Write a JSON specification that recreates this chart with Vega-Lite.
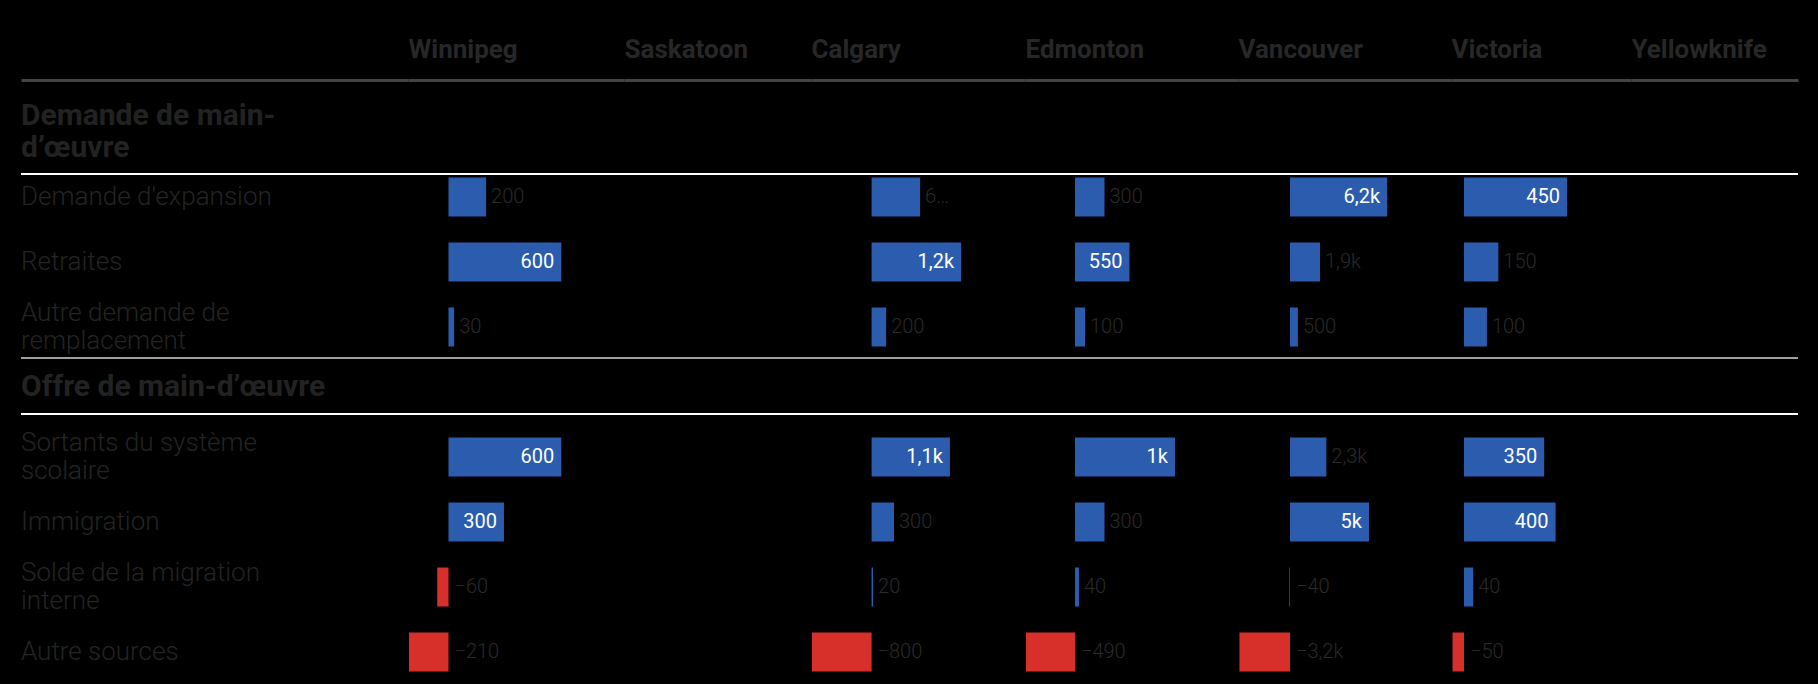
{
  "$schema": "https://vega.github.io/schema/vega-lite/v6.json",
  "background": "#000000",
  "padding": {"left": 20, "top": 36, "right": 20, "bottom": 4},
  "spacing": 0,
  "bounds": "flush",
  "datasets": {
    "rows": [
      {"row": "Demande de main-d’œuvre", "label": "Demande de main-\nd’œuvre", "kind": "section"},
      {"row": "Demande d'expansion", "label": "Demande d'expansion", "kind": "item"},
      {"row": "Retraites", "label": "Retraites", "kind": "item"},
      {"row": "Autre demande de remplacement", "label": "Autre demande de\nremplacement", "kind": "item"},
      {"row": "Offre de main-d’œuvre", "label": "Offre de main-d’œuvre", "kind": "section"},
      {"row": "Sortants du système scolaire", "label": "Sortants du système\nscolaire", "kind": "item"},
      {"row": "Immigration", "label": "Immigration", "kind": "item"},
      {"row": "Solde de la migration interne", "label": "Solde de la migration\ninterne", "kind": "item"},
      {"row": "Autre sources", "label": "Autre sources", "kind": "item"}
    ],
    "values": [
      {"city": "Winnipeg", "row": "Demande d'expansion", "value": 200, "label": "200"},
      {"city": "Winnipeg", "row": "Retraites", "value": 600, "label": "600"},
      {"city": "Winnipeg", "row": "Autre demande de remplacement", "value": 30, "label": "30"},
      {"city": "Winnipeg", "row": "Sortants du système scolaire", "value": 600, "label": "600"},
      {"city": "Winnipeg", "row": "Immigration", "value": 295, "label": "300"},
      {"city": "Winnipeg", "row": "Solde de la migration interne", "value": -60, "label": "−60"},
      {"city": "Winnipeg", "row": "Autre sources", "value": -210, "label": "−210"},
      {"city": "Calgary", "row": "Demande d'expansion", "value": 650, "label": "6…"},
      {"city": "Calgary", "row": "Retraites", "value": 1200, "label": "1,2k"},
      {"city": "Calgary", "row": "Autre demande de remplacement", "value": 195, "label": "200"},
      {"city": "Calgary", "row": "Sortants du système scolaire", "value": 1050, "label": "1,1k"},
      {"city": "Calgary", "row": "Immigration", "value": 300, "label": "300"},
      {"city": "Calgary", "row": "Solde de la migration interne", "value": 20, "label": "20"},
      {"city": "Calgary", "row": "Autre sources", "value": -800, "label": "−800"},
      {"city": "Edmonton", "row": "Demande d'expansion", "value": 295, "label": "300"},
      {"city": "Edmonton", "row": "Retraites", "value": 545, "label": "550"},
      {"city": "Edmonton", "row": "Autre demande de remplacement", "value": 100, "label": "100"},
      {"city": "Edmonton", "row": "Sortants du système scolaire", "value": 1000, "label": "1k"},
      {"city": "Edmonton", "row": "Immigration", "value": 295, "label": "300"},
      {"city": "Edmonton", "row": "Solde de la migration interne", "value": 40, "label": "40"},
      {"city": "Edmonton", "row": "Autre sources", "value": -490, "label": "−490"},
      {"city": "Vancouver", "row": "Demande d'expansion", "value": 6150, "label": "6,2k"},
      {"city": "Vancouver", "row": "Retraites", "value": 1900, "label": "1,9k"},
      {"city": "Vancouver", "row": "Autre demande de remplacement", "value": 500, "label": "500"},
      {"city": "Vancouver", "row": "Sortants du système scolaire", "value": 2300, "label": "2,3k"},
      {"city": "Vancouver", "row": "Immigration", "value": 5000, "label": "5k"},
      {"city": "Vancouver", "row": "Solde de la migration interne", "value": -40, "label": "−40"},
      {"city": "Vancouver", "row": "Autre sources", "value": -3200, "label": "−3,2k"},
      {"city": "Victoria", "row": "Demande d'expansion", "value": 450, "label": "450"},
      {"city": "Victoria", "row": "Retraites", "value": 150, "label": "150"},
      {"city": "Victoria", "row": "Autre demande de remplacement", "value": 100, "label": "100"},
      {"city": "Victoria", "row": "Sortants du système scolaire", "value": 350, "label": "350"},
      {"city": "Victoria", "row": "Immigration", "value": 400, "label": "400"},
      {"city": "Victoria", "row": "Solde de la migration interne", "value": 40, "label": "40"},
      {"city": "Victoria", "row": "Autre sources", "value": -50, "label": "−50"}
    ]
  },
  "hconcat": [
    {
      "width": 387, "height": 600,
      "layer": [
        {"data": {"name": "rows"}, "transform": [{"filter": {"field": "row", "oneOf": ["Demande d'expansion", "Retraites", "Immigration", "Autre sources"]}}],
         "mark": {"type": "text", "align": "left", "baseline": "middle", "font": "Roboto", "fontSize": 26, "fontWeight": 300, "color": "#242424", "lineBreak": "\n", "lineHeight": 28},
         "encoding": {
           "x": {"datum": 0, "type": "quantitative", "scale": {"domain": [0, 1], "nice": false, "zero": false}, "axis": {"orient": "top", "title": null}},
           "y": {"field": "row", "type": "nominal", "axis": null, "scale": {"domain": ["Demande de main-d’œuvre", "Demande d'expansion", "Retraites", "Autre demande de remplacement", "Offre de main-d’œuvre", "Sortants du système scolaire", "Immigration", "Solde de la migration interne", "Autre sources"], "paddingInner": 0.4, "paddingOuter": 0.3154, "align": 0.7927}},
           "text": {"field": "label"}
         }},
        {"data": {"name": "rows"}, "transform": [{"filter": {"field": "row", "oneOf": ["Autre demande de remplacement", "Sortants du système scolaire", "Solde de la migration interne"]}}],
         "mark": {"type": "text", "align": "left", "baseline": "middle", "dy": -14, "font": "Roboto", "fontSize": 26, "fontWeight": 300, "color": "#242424", "lineBreak": "\n", "lineHeight": 28},
         "encoding": {
           "x": {"datum": 0, "type": "quantitative"},
           "y": {"field": "row", "type": "nominal"},
           "text": {"field": "label"}
         }},
        {"data": {"name": "rows"}, "transform": [{"filter": {"field": "row", "equal": "Offre de main-d’œuvre"}}],
         "mark": {"type": "text", "align": "left", "baseline": "middle", "dy": -5, "font": "Roboto", "fontSize": 30, "fontWeight": "bold", "color": "#222222", "lineBreak": "\n", "lineHeight": 32},
         "encoding": {
           "x": {"datum": 0, "type": "quantitative"},
           "y": {"field": "row", "type": "nominal"},
           "text": {"field": "label"}
         }},
        {"data": {"name": "rows"}, "transform": [{"filter": {"field": "row", "equal": "Demande de main-d’œuvre"}}],
         "mark": {"type": "text", "align": "left", "baseline": "middle", "dy": -16, "font": "Roboto", "fontSize": 30, "fontWeight": "bold", "color": "#222222", "lineBreak": "\n", "lineHeight": 32},
         "encoding": {
           "x": {"datum": 0, "type": "quantitative"},
           "y": {"field": "row", "type": "nominal"},
           "text": {"field": "label"}
         }},
        {"data": {"name": "rows"}, "transform": [{"filter": {"field": "row", "equal": "Demande d'expansion"}}], "mark": {"type": "rule", "color": "#ffffff", "strokeWidth": 2}, "encoding": {"y": {"field": "row", "type": "nominal", "bandPosition": -0.09}}},
        {"data": {"name": "rows"}, "transform": [{"filter": {"field": "row", "equal": "Offre de main-d’œuvre"}}], "mark": {"type": "rule", "color": "#a0a0a0", "strokeWidth": 2}, "encoding": {"y": {"field": "row", "type": "nominal", "bandPosition": -0.37}}},
        {"data": {"name": "rows"}, "transform": [{"filter": {"field": "row", "equal": "Sortants du système scolaire"}}], "mark": {"type": "rule", "color": "#ffffff", "strokeWidth": 2}, "encoding": {"y": {"field": "row", "type": "nominal", "bandPosition": -0.6}}}
      ]
    },
    {
      "width": 216, "height": 600,
      "layer": [
        {"data": {"name": "values"}, "transform": [{"filter": {"field": "city", "equal": "Winnipeg"}}],
         "mark": {"type": "bar"},
         "encoding": {
           "x": {"field": "value", "type": "quantitative", "scale": {"domain": [-215.4, 933.5], "nice": false, "zero": false}, "axis": {"orient": "top", "title": "Winnipeg"}},
           "y": {"field": "row", "type": "nominal", "axis": null, "scale": {"domain": ["Demande de main-d’œuvre", "Demande d'expansion", "Retraites", "Autre demande de remplacement", "Offre de main-d’œuvre", "Sortants du système scolaire", "Immigration", "Solde de la migration interne", "Autre sources"], "paddingInner": 0.4, "paddingOuter": 0.3154, "align": 0.7927}},
           "color": {"condition": {"test": "datum.value < 0", "value": "#d7302b"}, "value": "#2b5cae"}
         }},
        {"data": {"name": "values"}, "transform": [{"filter": {"field": "city", "equal": "Winnipeg"}}, {"filter": "datum.value >= 250"}],
         "mark": {"type": "text", "align": "right", "baseline": "middle", "dx": -7, "font": "Roboto", "fontSize": 20, "color": "#ffffff"},
         "encoding": {"x": {"field": "value", "type": "quantitative"}, "y": {"field": "row", "type": "nominal"}, "text": {"field": "label"}}},
        {"data": {"name": "values"}, "transform": [{"filter": {"field": "city", "equal": "Winnipeg"}}, {"filter": "datum.value >= 0 && datum.value < 250"}],
         "mark": {"type": "text", "align": "left", "baseline": "middle", "dx": 5, "font": "Roboto", "fontSize": 20, "fontWeight": 300, "color": "#2a2a2a"},
         "encoding": {"x": {"field": "value", "type": "quantitative"}, "y": {"field": "row", "type": "nominal"}, "text": {"field": "label"}}},
        {"data": {"name": "values"}, "transform": [{"filter": {"field": "city", "equal": "Winnipeg"}}, {"filter": "datum.value < 0"}],
         "mark": {"type": "text", "align": "left", "baseline": "middle", "dx": 6, "font": "Roboto", "fontSize": 20, "fontWeight": 300, "color": "#2a2a2a"},
         "encoding": {"x": {"datum": 0, "type": "quantitative"}, "y": {"field": "row", "type": "nominal"}, "text": {"field": "label"}}},
        {"data": {"name": "rows"}, "transform": [{"filter": {"field": "row", "equal": "Demande d'expansion"}}], "mark": {"type": "rule", "color": "#ffffff", "strokeWidth": 2}, "encoding": {"y": {"field": "row", "type": "nominal", "bandPosition": -0.09}}},
        {"data": {"name": "rows"}, "transform": [{"filter": {"field": "row", "equal": "Offre de main-d’œuvre"}}], "mark": {"type": "rule", "color": "#a0a0a0", "strokeWidth": 2}, "encoding": {"y": {"field": "row", "type": "nominal", "bandPosition": -0.37}}},
        {"data": {"name": "rows"}, "transform": [{"filter": {"field": "row", "equal": "Sortants du système scolaire"}}], "mark": {"type": "rule", "color": "#ffffff", "strokeWidth": 2}, "encoding": {"y": {"field": "row", "type": "nominal", "bandPosition": -0.6}}}
      ]
    },
    {
      "width": 187, "height": 600,
      "layer": [
        {"data": {"name": "rows"},
         "mark": {"type": "text", "opacity": 0},
         "encoding": {
           "x": {"datum": 0, "type": "quantitative", "scale": {"domain": [0, 1], "nice": false, "zero": false}, "axis": {"orient": "top", "title": "Saskatoon"}},
           "y": {"field": "row", "type": "nominal", "axis": null, "scale": {"domain": ["Demande de main-d’œuvre", "Demande d'expansion", "Retraites", "Autre demande de remplacement", "Offre de main-d’œuvre", "Sortants du système scolaire", "Immigration", "Solde de la migration interne", "Autre sources"], "paddingInner": 0.4, "paddingOuter": 0.3154, "align": 0.7927}},
           "text": {"field": "row"}
         }},
        {"data": {"name": "rows"}, "transform": [{"filter": {"field": "row", "equal": "Demande d'expansion"}}], "mark": {"type": "rule", "color": "#ffffff", "strokeWidth": 2}, "encoding": {"y": {"field": "row", "type": "nominal", "bandPosition": -0.09}}},
        {"data": {"name": "rows"}, "transform": [{"filter": {"field": "row", "equal": "Offre de main-d’œuvre"}}], "mark": {"type": "rule", "color": "#a0a0a0", "strokeWidth": 2}, "encoding": {"y": {"field": "row", "type": "nominal", "bandPosition": -0.37}}},
        {"data": {"name": "rows"}, "transform": [{"filter": {"field": "row", "equal": "Sortants du système scolaire"}}], "mark": {"type": "rule", "color": "#ffffff", "strokeWidth": 2}, "encoding": {"y": {"field": "row", "type": "nominal", "bandPosition": -0.6}}}
      ]
    },
    {
      "width": 214, "height": 600,
      "layer": [
        {"data": {"name": "values"}, "transform": [{"filter": {"field": "city", "equal": "Calgary"}}],
         "mark": {"type": "bar"},
         "encoding": {
           "x": {"field": "value", "type": "quantitative", "scale": {"domain": [-812.3, 2056.3], "nice": false, "zero": false}, "axis": {"orient": "top", "title": "Calgary"}},
           "y": {"field": "row", "type": "nominal", "axis": null, "scale": {"domain": ["Demande de main-d’œuvre", "Demande d'expansion", "Retraites", "Autre demande de remplacement", "Offre de main-d’œuvre", "Sortants du système scolaire", "Immigration", "Solde de la migration interne", "Autre sources"], "paddingInner": 0.4, "paddingOuter": 0.3154, "align": 0.7927}},
           "color": {"condition": {"test": "datum.value < 0", "value": "#d7302b"}, "value": "#2b5cae"}
         }},
        {"data": {"name": "values"}, "transform": [{"filter": {"field": "city", "equal": "Calgary"}}, {"filter": "datum.value >= 800"}],
         "mark": {"type": "text", "align": "right", "baseline": "middle", "dx": -7, "font": "Roboto", "fontSize": 20, "color": "#ffffff"},
         "encoding": {"x": {"field": "value", "type": "quantitative"}, "y": {"field": "row", "type": "nominal"}, "text": {"field": "label"}}},
        {"data": {"name": "values"}, "transform": [{"filter": {"field": "city", "equal": "Calgary"}}, {"filter": "datum.value >= 0 && datum.value < 800"}],
         "mark": {"type": "text", "align": "left", "baseline": "middle", "dx": 5, "font": "Roboto", "fontSize": 20, "fontWeight": 300, "color": "#2a2a2a"},
         "encoding": {"x": {"field": "value", "type": "quantitative"}, "y": {"field": "row", "type": "nominal"}, "text": {"field": "label"}}},
        {"data": {"name": "values"}, "transform": [{"filter": {"field": "city", "equal": "Calgary"}}, {"filter": "datum.value < 0"}],
         "mark": {"type": "text", "align": "left", "baseline": "middle", "dx": 6, "font": "Roboto", "fontSize": 20, "fontWeight": 300, "color": "#2a2a2a"},
         "encoding": {"x": {"datum": 0, "type": "quantitative"}, "y": {"field": "row", "type": "nominal"}, "text": {"field": "label"}}},
        {"data": {"name": "rows"}, "transform": [{"filter": {"field": "row", "equal": "Demande d'expansion"}}], "mark": {"type": "rule", "color": "#ffffff", "strokeWidth": 2}, "encoding": {"y": {"field": "row", "type": "nominal", "bandPosition": -0.09}}},
        {"data": {"name": "rows"}, "transform": [{"filter": {"field": "row", "equal": "Offre de main-d’œuvre"}}], "mark": {"type": "rule", "color": "#a0a0a0", "strokeWidth": 2}, "encoding": {"y": {"field": "row", "type": "nominal", "bandPosition": -0.37}}},
        {"data": {"name": "rows"}, "transform": [{"filter": {"field": "row", "equal": "Sortants du système scolaire"}}], "mark": {"type": "rule", "color": "#ffffff", "strokeWidth": 2}, "encoding": {"y": {"field": "row", "type": "nominal", "bandPosition": -0.6}}}
      ]
    },
    {
      "width": 213, "height": 600,
      "layer": [
        {"data": {"name": "values"}, "transform": [{"filter": {"field": "city", "equal": "Edmonton"}}],
         "mark": {"type": "bar"},
         "encoding": {
           "x": {"field": "value", "type": "quantitative", "scale": {"domain": [-500, 1630], "nice": false, "zero": false}, "axis": {"orient": "top", "title": "Edmonton"}},
           "y": {"field": "row", "type": "nominal", "axis": null, "scale": {"domain": ["Demande de main-d’œuvre", "Demande d'expansion", "Retraites", "Autre demande de remplacement", "Offre de main-d’œuvre", "Sortants du système scolaire", "Immigration", "Solde de la migration interne", "Autre sources"], "paddingInner": 0.4, "paddingOuter": 0.3154, "align": 0.7927}},
           "color": {"condition": {"test": "datum.value < 0", "value": "#d7302b"}, "value": "#2b5cae"}
         }},
        {"data": {"name": "values"}, "transform": [{"filter": {"field": "city", "equal": "Edmonton"}}, {"filter": "datum.value >= 400"}],
         "mark": {"type": "text", "align": "right", "baseline": "middle", "dx": -7, "font": "Roboto", "fontSize": 20, "color": "#ffffff"},
         "encoding": {"x": {"field": "value", "type": "quantitative"}, "y": {"field": "row", "type": "nominal"}, "text": {"field": "label"}}},
        {"data": {"name": "values"}, "transform": [{"filter": {"field": "city", "equal": "Edmonton"}}, {"filter": "datum.value >= 0 && datum.value < 400"}],
         "mark": {"type": "text", "align": "left", "baseline": "middle", "dx": 5, "font": "Roboto", "fontSize": 20, "fontWeight": 300, "color": "#2a2a2a"},
         "encoding": {"x": {"field": "value", "type": "quantitative"}, "y": {"field": "row", "type": "nominal"}, "text": {"field": "label"}}},
        {"data": {"name": "values"}, "transform": [{"filter": {"field": "city", "equal": "Edmonton"}}, {"filter": "datum.value < 0"}],
         "mark": {"type": "text", "align": "left", "baseline": "middle", "dx": 6, "font": "Roboto", "fontSize": 20, "fontWeight": 300, "color": "#2a2a2a"},
         "encoding": {"x": {"datum": 0, "type": "quantitative"}, "y": {"field": "row", "type": "nominal"}, "text": {"field": "label"}}},
        {"data": {"name": "rows"}, "transform": [{"filter": {"field": "row", "equal": "Demande d'expansion"}}], "mark": {"type": "rule", "color": "#ffffff", "strokeWidth": 2}, "encoding": {"y": {"field": "row", "type": "nominal", "bandPosition": -0.09}}},
        {"data": {"name": "rows"}, "transform": [{"filter": {"field": "row", "equal": "Offre de main-d’œuvre"}}], "mark": {"type": "rule", "color": "#a0a0a0", "strokeWidth": 2}, "encoding": {"y": {"field": "row", "type": "nominal", "bandPosition": -0.37}}},
        {"data": {"name": "rows"}, "transform": [{"filter": {"field": "row", "equal": "Sortants du système scolaire"}}], "mark": {"type": "rule", "color": "#ffffff", "strokeWidth": 2}, "encoding": {"y": {"field": "row", "type": "nominal", "bandPosition": -0.6}}}
      ]
    },
    {
      "width": 213, "height": 600,
      "layer": [
        {"data": {"name": "values"}, "transform": [{"filter": {"field": "city", "equal": "Vancouver"}}],
         "mark": {"type": "bar"},
         "encoding": {
           "x": {"field": "value", "type": "quantitative", "scale": {"domain": [-3291, 10190], "nice": false, "zero": false}, "axis": {"orient": "top", "title": "Vancouver"}},
           "y": {"field": "row", "type": "nominal", "axis": null, "scale": {"domain": ["Demande de main-d’œuvre", "Demande d'expansion", "Retraites", "Autre demande de remplacement", "Offre de main-d’œuvre", "Sortants du système scolaire", "Immigration", "Solde de la migration interne", "Autre sources"], "paddingInner": 0.4, "paddingOuter": 0.3154, "align": 0.7927}},
           "color": {"condition": {"test": "datum.value < 0", "value": "#d7302b"}, "value": "#2b5cae"}
         }},
        {"data": {"name": "values"}, "transform": [{"filter": {"field": "city", "equal": "Vancouver"}}, {"filter": "datum.value >= 3000"}],
         "mark": {"type": "text", "align": "right", "baseline": "middle", "dx": -7, "font": "Roboto", "fontSize": 20, "color": "#ffffff"},
         "encoding": {"x": {"field": "value", "type": "quantitative"}, "y": {"field": "row", "type": "nominal"}, "text": {"field": "label"}}},
        {"data": {"name": "values"}, "transform": [{"filter": {"field": "city", "equal": "Vancouver"}}, {"filter": "datum.value >= 0 && datum.value < 3000"}],
         "mark": {"type": "text", "align": "left", "baseline": "middle", "dx": 5, "font": "Roboto", "fontSize": 20, "fontWeight": 300, "color": "#2a2a2a"},
         "encoding": {"x": {"field": "value", "type": "quantitative"}, "y": {"field": "row", "type": "nominal"}, "text": {"field": "label"}}},
        {"data": {"name": "values"}, "transform": [{"filter": {"field": "city", "equal": "Vancouver"}}, {"filter": "datum.value < 0"}],
         "mark": {"type": "text", "align": "left", "baseline": "middle", "dx": 6, "font": "Roboto", "fontSize": 20, "fontWeight": 300, "color": "#2a2a2a"},
         "encoding": {"x": {"datum": 0, "type": "quantitative"}, "y": {"field": "row", "type": "nominal"}, "text": {"field": "label"}}},
        {"data": {"name": "rows"}, "transform": [{"filter": {"field": "row", "equal": "Demande d'expansion"}}], "mark": {"type": "rule", "color": "#ffffff", "strokeWidth": 2}, "encoding": {"y": {"field": "row", "type": "nominal", "bandPosition": -0.09}}},
        {"data": {"name": "rows"}, "transform": [{"filter": {"field": "row", "equal": "Offre de main-d’œuvre"}}], "mark": {"type": "rule", "color": "#a0a0a0", "strokeWidth": 2}, "encoding": {"y": {"field": "row", "type": "nominal", "bandPosition": -0.37}}},
        {"data": {"name": "rows"}, "transform": [{"filter": {"field": "row", "equal": "Sortants du système scolaire"}}], "mark": {"type": "rule", "color": "#ffffff", "strokeWidth": 2}, "encoding": {"y": {"field": "row", "type": "nominal", "bandPosition": -0.6}}}
      ]
    },
    {
      "width": 180, "height": 600,
      "layer": [
        {"data": {"name": "values"}, "transform": [{"filter": {"field": "city", "equal": "Victoria"}}],
         "mark": {"type": "bar"},
         "encoding": {
           "x": {"field": "value", "type": "quantitative", "scale": {"domain": [-56.8, 729.3], "nice": false, "zero": false}, "axis": {"orient": "top", "title": "Victoria"}},
           "y": {"field": "row", "type": "nominal", "axis": null, "scale": {"domain": ["Demande de main-d’œuvre", "Demande d'expansion", "Retraites", "Autre demande de remplacement", "Offre de main-d’œuvre", "Sortants du système scolaire", "Immigration", "Solde de la migration interne", "Autre sources"], "paddingInner": 0.4, "paddingOuter": 0.3154, "align": 0.7927}},
           "color": {"condition": {"test": "datum.value < 0", "value": "#d7302b"}, "value": "#2b5cae"}
         }},
        {"data": {"name": "values"}, "transform": [{"filter": {"field": "city", "equal": "Victoria"}}, {"filter": "datum.value >= 250"}],
         "mark": {"type": "text", "align": "right", "baseline": "middle", "dx": -7, "font": "Roboto", "fontSize": 20, "color": "#ffffff"},
         "encoding": {"x": {"field": "value", "type": "quantitative"}, "y": {"field": "row", "type": "nominal"}, "text": {"field": "label"}}},
        {"data": {"name": "values"}, "transform": [{"filter": {"field": "city", "equal": "Victoria"}}, {"filter": "datum.value >= 0 && datum.value < 250"}],
         "mark": {"type": "text", "align": "left", "baseline": "middle", "dx": 5, "font": "Roboto", "fontSize": 20, "fontWeight": 300, "color": "#2a2a2a"},
         "encoding": {"x": {"field": "value", "type": "quantitative"}, "y": {"field": "row", "type": "nominal"}, "text": {"field": "label"}}},
        {"data": {"name": "values"}, "transform": [{"filter": {"field": "city", "equal": "Victoria"}}, {"filter": "datum.value < 0"}],
         "mark": {"type": "text", "align": "left", "baseline": "middle", "dx": 6, "font": "Roboto", "fontSize": 20, "fontWeight": 300, "color": "#2a2a2a"},
         "encoding": {"x": {"datum": 0, "type": "quantitative"}, "y": {"field": "row", "type": "nominal"}, "text": {"field": "label"}}},
        {"data": {"name": "rows"}, "transform": [{"filter": {"field": "row", "equal": "Demande d'expansion"}}], "mark": {"type": "rule", "color": "#ffffff", "strokeWidth": 2}, "encoding": {"y": {"field": "row", "type": "nominal", "bandPosition": -0.09}}},
        {"data": {"name": "rows"}, "transform": [{"filter": {"field": "row", "equal": "Offre de main-d’œuvre"}}], "mark": {"type": "rule", "color": "#a0a0a0", "strokeWidth": 2}, "encoding": {"y": {"field": "row", "type": "nominal", "bandPosition": -0.37}}},
        {"data": {"name": "rows"}, "transform": [{"filter": {"field": "row", "equal": "Sortants du système scolaire"}}], "mark": {"type": "rule", "color": "#ffffff", "strokeWidth": 2}, "encoding": {"y": {"field": "row", "type": "nominal", "bandPosition": -0.6}}}
      ]
    },
    {
      "width": 167, "height": 600,
      "layer": [
        {"data": {"name": "rows"},
         "mark": {"type": "text", "opacity": 0},
         "encoding": {
           "x": {"datum": 0, "type": "quantitative", "scale": {"domain": [0, 1], "nice": false, "zero": false}, "axis": {"orient": "top", "title": "Yellowknife"}},
           "y": {"field": "row", "type": "nominal", "axis": null, "scale": {"domain": ["Demande de main-d’œuvre", "Demande d'expansion", "Retraites", "Autre demande de remplacement", "Offre de main-d’œuvre", "Sortants du système scolaire", "Immigration", "Solde de la migration interne", "Autre sources"], "paddingInner": 0.4, "paddingOuter": 0.3154, "align": 0.7927}},
           "text": {"field": "row"}
         }},
        {"data": {"name": "rows"}, "transform": [{"filter": {"field": "row", "equal": "Demande d'expansion"}}], "mark": {"type": "rule", "color": "#ffffff", "strokeWidth": 2}, "encoding": {"y": {"field": "row", "type": "nominal", "bandPosition": -0.09}}},
        {"data": {"name": "rows"}, "transform": [{"filter": {"field": "row", "equal": "Offre de main-d’œuvre"}}], "mark": {"type": "rule", "color": "#a0a0a0", "strokeWidth": 2}, "encoding": {"y": {"field": "row", "type": "nominal", "bandPosition": -0.37}}},
        {"data": {"name": "rows"}, "transform": [{"filter": {"field": "row", "equal": "Sortants du système scolaire"}}], "mark": {"type": "rule", "color": "#ffffff", "strokeWidth": 2}, "encoding": {"y": {"field": "row", "type": "nominal", "bandPosition": -0.6}}}
      ]
    }
  ],
  "config": {
    "view": {"stroke": null},
    "font": "Roboto",
    "axis": {
      "labels": false, "ticks": false, "grid": false,
      "domain": true, "domainColor": "#444444", "domainWidth": 3,
      "titleFont": "Roboto", "titleFontSize": 26, "titleFontWeight": "bold", "titleColor": "#272727",
      "titleAnchor": "start", "titleAlign": "left", "titlePadding": 23, "titleBaseline": "alphabetic"
    }
  }
}
